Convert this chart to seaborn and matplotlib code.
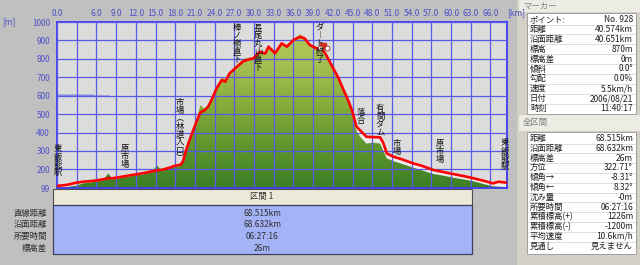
import numpy as np
import pandas as pd
import matplotlib
matplotlib.use("Agg")
import matplotlib.pyplot as plt
import matplotlib.transforms as mtransforms
from matplotlib.patches import Rectangle
from matplotlib.colors import LinearSegmentedColormap
import seaborn as sns

# ---------------- data ----------------
km = [0.0, 1.5, 3.0, 4.0, 5.0, 6.0, 7.0, 7.8, 8.5, 9.5, 10.5, 11.5, 12.5, 13.5,
      14.5, 15.2, 16.0, 17.0, 18.0, 18.8, 19.2, 19.7, 20.5, 21.2, 21.8, 22.5,
      23.0, 23.5, 24.3, 25.1, 25.6, 26.3, 27.4, 28.3, 29.0, 29.9, 30.9, 31.7,
      32.2, 33.2, 34.2, 35.0, 36.0, 37.0, 37.7, 38.5, 39.5, 40.3, 41.0, 42.1,
      42.8, 43.3, 44.3, 44.9, 45.6, 46.1, 47.1, 48.2, 49.2, 49.7, 50.2, 51.2,
      52.5, 54.2, 55.5, 57.3, 58.5, 60.3, 62.0, 63.4, 65.0, 66.4, 67.2, 68.5]
track_m = [110, 116, 128, 133, 136, 140, 146, 152, 152, 158, 164, 170, 176, 182,
           190, 194, 198, 208, 220, 225, 245, 310, 390, 455, 508, 522,
           540, 575, 640, 685, 676, 722, 757, 785, 795, 803, 839, 828,
           866, 830, 884, 866, 902, 920, 911, 875, 857, 857, 820, 745,
           700, 658, 577, 522, 432, 414, 377, 375, 374, 342, 287, 269,
           255, 233, 220, 197, 188, 175, 163, 152, 138, 124, 133, 128]
terrain_m = [102, 104, 112, 124, 128, 134, 140, 178, 146, 152, 158, 164, 170, 176,
             184, 222, 194, 204, 214, 218, 240, 300, 385, 450, 548, 530,
             545, 580, 650, 700, 690, 730, 770, 800, 805, 810, 845, 835,
             870, 840, 890, 875, 905, 935, 915, 880, 860, 850, 810, 730,
             690, 640, 600, 500, 410, 380, 340, 345, 340, 300, 260, 245,
             230, 210, 195, 175, 168, 155, 145, 135, 120, 108, 106, 104]
x_ticks = [0, 3, 6, 9, 12, 15, 18, 21, 24, 27, 30, 33, 36, 39, 42, 45, 48, 51,
           54, 57, 60, 63, 66]
x_tick_labels = ["0.0", ""] + [f"{v:.1f}" for v in x_ticks[2:]]
y_ticks = [99, 200, 300, 400, 500, 600, 700, 800, 900, 1000]
total_km = 68.515
marker_km, marker_m = 40.574, 870

waypoints = ["東飯能駅", "原市場", "市場︵林道入口︶", "棒ノ嶺直下", "長尾丸山直下",
             "ダ︱ト終了", "落合", "有間ダム", "市場", "原市場", "東飯能駅"]
waypoint_km = [0.1, 10.35, 18.7, 27.4, 30.6, 40.0, 46.3, 49.2, 51.75, 58.3, 68.2]
waypoint_top_m = [343, 343, 593, 1000, 1000, 1000, 539, 560, 370, 370, 376]

table_keys = ["直線距離", "沿面距離", "所要時間", "標高差"]
table_vals = ["68.515km", "68.632km", "06:27:16", "26m"]

marker_keys = ["ポイント:", "距離", "沿面距離", "標高", "標高差", "傾斜", "勾配",
               "速度", "日付", "時刻"]
marker_vals = ["No. 928", "40.574km", "40.651km", "870m", "0m", "0.0°", "0.0%",
               "5.5km/h", "2006/08/21", "11:40:17"]
total_keys = ["距離", "沿面距離", "標高差", "方位", "傾角→", "傾角←", "沈み量",
              "所要時間", "累積標高(+)", "累積標高(-)", "平均速度", "見通し"]
total_vals = ["68.515km", "68.632km", "26m", "322.71°", "-8.31°", "8.32°", "-0m",
              "06:27:16", "1226m", "-1200m", "10.6km/h", "見えません"]

# ---------------- style ----------------
sns.set_style("white")
plt.rcParams["font.family"] = ["Noto Sans CJK JP", "DejaVu Sans"]

W, H = 640, 265
fig = plt.figure(figsize=(W / 100, H / 100), dpi=100, facecolor="#c0c0c0")


def fx(x):
    return x / W


def fy(y):
    return 1 - y / H


FS = 6
TICK_C = "#5050c8"
TXT_C = "#303030"

ax = fig.add_axes([fx(57), fy(188), (507 - 57) / W, (188 - 22) / H])
ax.set_facecolor("#dcdcdc")

df = pd.DataFrame({"km": km, "track": track_m, "terrain": terrain_m})

# light band between terrain and track
ax.fill_between(df["km"], df["terrain"], df["track"],
                where=df["track"] > df["terrain"], interpolate=True,
                color="#ebebeb", lw=0, zorder=0.8)
# terrain with gradient
poly = ax.fill_between(df["km"], 99, df["terrain"], color="none", lw=0)
grad = np.linspace(0, 1, 256).reshape(-1, 1)
cmap = LinearSegmentedColormap.from_list(
    "g", ["#3c7e26", "#5e962e", "#86ac3c", "#a6c050", "#b4ca5c"])
im = ax.imshow(grad, extent=[0, total_km, 99, 1000], origin="lower",
               aspect="auto", cmap=cmap, zorder=1, interpolation="bilinear")
im.set_clip_path(poly.get_paths()[0], transform=ax.transData)

# grid
ax.set_axisbelow(False)
ax.grid(True, color="#5a5ae8", lw=0.9)

# track line
sns.lineplot(data=df, x="km", y="track", color="#ff0000", lw=1.9, ax=ax,
             zorder=3, estimator=None, sort=False)

# thin blue leader line
ax.plot([0, 5.5, 5.6, 8.0], [603, 603, 598, 598], color="#5a5ae8", lw=0.7, zorder=2)

# marker icon
ax.plot([marker_km], [marker_m], marker="s", ms=4, color="#d03020", zorder=5)
ax.plot([marker_km - 0.5, marker_km + 0.6], [marker_m - 12, marker_m - 12],
        ls="none", marker="o", ms=3.5, mfc="white", mec="#903020", mew=0.6, zorder=5)

ax.set_xlim(0, total_km)
ax.set_ylim(99, 1000)
ax.set_xticks(x_ticks)
ax.set_xticklabels(x_tick_labels)
ax.set_yticks(y_ticks)
ax.set_yticklabels([str(v) for v in y_ticks])
ax.xaxis.tick_top()
ax.tick_params(axis="both", length=0, labelsize=FS, labelcolor=TICK_C)
ax.tick_params(axis="x", pad=3)
ax.tick_params(axis="y", pad=5)
ax.set_xlabel("")
ax.set_ylabel("")
for s in ax.spines.values():
    s.set_color("#3a3af0")
    s.set_linewidth(1.3)

# vertical waypoint labels
STEP = 8
for name, wx, wtop in zip(waypoints, waypoint_km, waypoint_top_m):
    for i, ch in enumerate(name):
        tr = mtransforms.offset_copy(ax.transData, fig=fig, x=0, y=-i * STEP - 1,
                                     units="dots")
        ax.text(wx, wtop, ch, transform=tr, ha="center", va="top", fontsize=FS,
                color="#101010", zorder=6, clip_on=False)

fig.text(fx(9), fy(22), "[m]", ha="center", va="center", fontsize=FS, color=TICK_C)
fig.text(fx(516), fy(13), "[km]", ha="center", va="center", fontsize=FS, color=TICK_C)


def rect(x0, y0, x1, y1, fc, ec="none", lw=0.8, z=1):
    fig.add_artist(Rectangle((fx(x0), fy(y1)), (x1 - x0) / W, (y1 - y0) / H,
                             transform=fig.transFigure, facecolor=fc,
                             edgecolor=ec, lw=lw, zorder=z))


# ---------------- section table ----------------
rect(53, 189, 472, 205, "#ece9d8", "#505050", 0.8)
fig.text(fx(262), fy(197), "区間 1", ha="center", va="center", fontsize=FS, color=TXT_C)
rect(53, 205, 472, 254, "#a3b3f6", "#404060", 0.9)
row_y = [213, 224.5, 236.5, 248.5]
for k, v, yy in zip(table_keys, table_vals, row_y):
    fig.text(fx(47), fy(yy), k, ha="right", va="center", fontsize=FS, color=TXT_C)
    fig.text(fx(262), fy(yy), v, ha="center", va="center", fontsize=FS, color=TXT_C)

# ---------------- right panel ----------------
rect(517, 0, 640, 265, "#d4d0c8")
rect(519, 0, 640, 12, "#ecebe4")
fig.text(fx(523), fy(6), "マーカー", ha="left", va="center", fontsize=FS, color="#808080")
rect(527, 13, 636, 114, "white", "#a0a0a0", 0.7)
for i, (k, v) in enumerate(zip(marker_keys, marker_vals)):
    yy = 19.5 + i * 9.9
    fig.text(fx(530), fy(yy), k, ha="left", va="center", fontsize=FS, color="#202020")
    fig.text(fx(633), fy(yy), v, ha="right", va="center", fontsize=FS, color="#202020")
    if i < len(marker_keys) - 1:
        fig.add_artist(plt.Line2D([fx(528), fx(635)], [fy(yy + 5), fy(yy + 5)],
                                  transform=fig.transFigure, color="#d8d8d8", lw=0.6))

rect(519, 115, 640, 131, "#ecebe4")
fig.text(fx(523), fy(122), "全区間", ha="left", va="center", fontsize=FS, color="#808080")
rect(527, 132, 636, 254, "white", "#a0a0a0", 0.7)
for i, (k, v) in enumerate(zip(total_keys, total_vals)):
    yy = 138.5 + i * 9.8
    fig.text(fx(530), fy(yy), k, ha="left", va="center", fontsize=FS, color="#202020")
    fig.text(fx(633), fy(yy), v, ha="right", va="center", fontsize=FS, color="#202020")
    if i < len(total_keys) - 1:
        fig.add_artist(plt.Line2D([fx(528), fx(635)], [fy(yy + 5), fy(yy + 5)],
                                  transform=fig.transFigure, color="#d8d8d8", lw=0.6))

fig.savefig("out.png", dpi=100, facecolor=fig.get_facecolor())
